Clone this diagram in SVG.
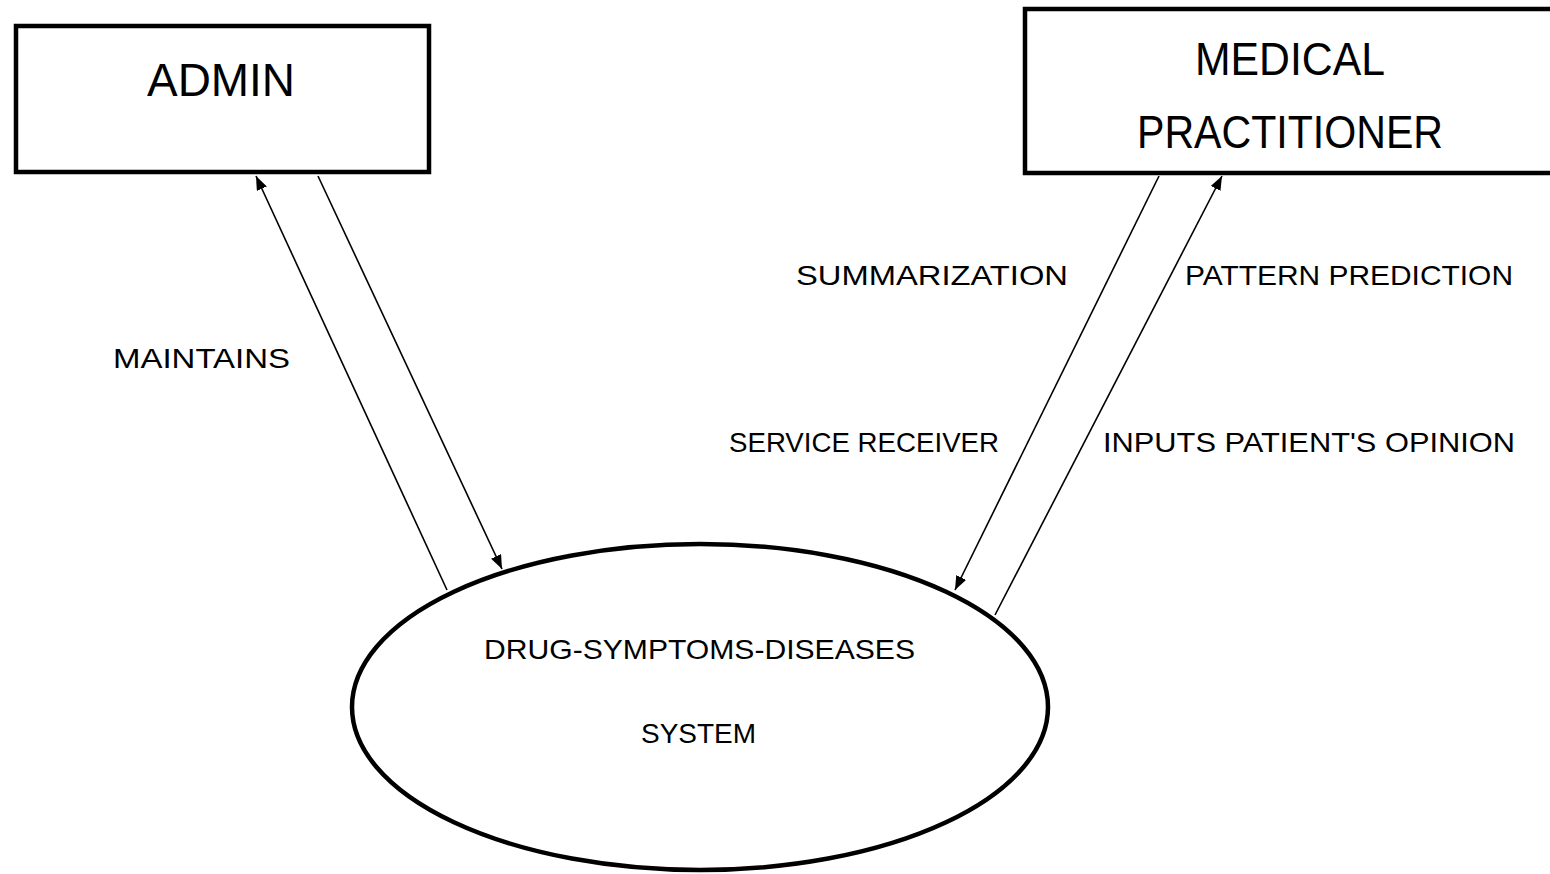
<svg xmlns="http://www.w3.org/2000/svg" width="1550" height="874" viewBox="0 0 1550 874">
<style>
.box{fill:#fff;stroke:#000;stroke-width:4.5}
.big{font-family:"Liberation Sans",Arial,sans-serif;font-size:46px;fill:#000}
.lbl{font-family:"Liberation Sans",Arial,sans-serif;font-size:28px;fill:#000}
.conn{stroke:#000;stroke-width:1.6;fill:none}
</style>
<defs>
<marker id="ah" viewBox="0 0 14 11" refX="14" refY="5.5" markerWidth="14" markerHeight="11" markerUnits="userSpaceOnUse" orient="auto">
<path d="M0,0 L14,5.5 L0,11 Z" fill="#000"/>
</marker>
</defs>
<rect width="1550" height="874" fill="#fff"/>
<g id="connectors">
<line class="conn" x1="447" y1="590" x2="256" y2="176" marker-end="url(#ah)"/>
<line class="conn" x1="318" y1="176" x2="502" y2="569" marker-end="url(#ah)"/>
<line class="conn" x1="1159" y1="176" x2="955" y2="590" marker-end="url(#ah)"/>
<line class="conn" x1="995" y1="615" x2="1222" y2="176" marker-end="url(#ah)"/>
</g>
<g id="admin">
<rect class="box" x="16" y="26" width="413" height="146"/>
<text class="big" x="147" y="96" textLength="148" lengthAdjust="spacingAndGlyphs">ADMIN</text>
</g>
<g id="medical-practitioner">
<rect class="box" x="1025" y="9" width="530" height="164"/>
<text class="big" x="1195" y="75" textLength="190" lengthAdjust="spacingAndGlyphs">MEDICAL</text>
<text class="big" x="1137" y="148" textLength="306" lengthAdjust="spacingAndGlyphs">PRACTITIONER</text>
</g>
<g id="system">
<ellipse cx="700" cy="707" rx="348" ry="163" fill="#fff" stroke="#000" stroke-width="4.5"/>
<text class="lbl" x="484" y="659" textLength="431" lengthAdjust="spacingAndGlyphs">DRUG-SYMPTOMS-DISEASES</text>
<text class="lbl" x="641" y="743" textLength="115" lengthAdjust="spacingAndGlyphs">SYSTEM</text>
</g>
<g id="labels">
<text class="lbl" x="113" y="368" textLength="177" lengthAdjust="spacingAndGlyphs">MAINTAINS</text>
<text class="lbl" x="796" y="285" textLength="272" lengthAdjust="spacingAndGlyphs">SUMMARIZATION</text>
<text class="lbl" x="1185" y="285" textLength="328" lengthAdjust="spacingAndGlyphs">PATTERN PREDICTION</text>
<text class="lbl" x="729" y="452" textLength="270" lengthAdjust="spacingAndGlyphs">SERVICE RECEIVER</text>
<text class="lbl" x="1103" y="452" textLength="412" lengthAdjust="spacingAndGlyphs">INPUTS PATIENT'S OPINION</text>
</g>
</svg>
